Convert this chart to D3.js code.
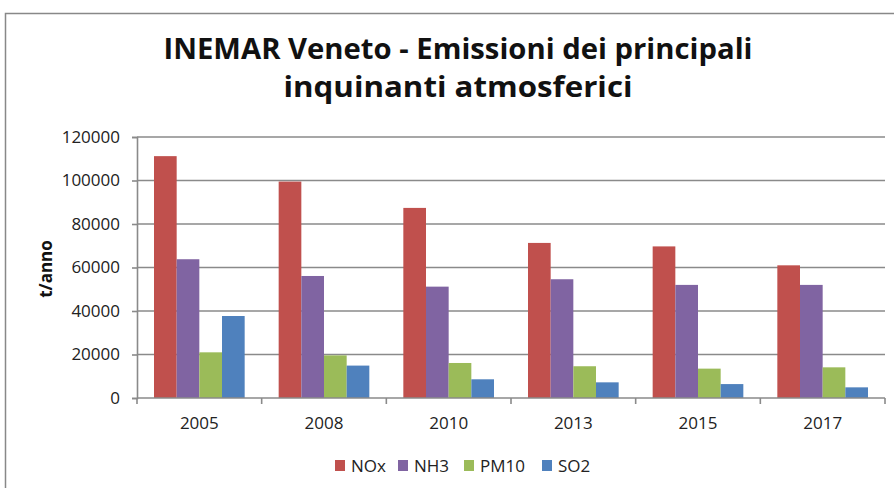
<!DOCTYPE html>
<html>
<head>
<meta charset="utf-8">
<script src="https://cdn.jsdelivr.net/npm/d3@7"></script>
<style>
  body { margin: 0; background: #fff; }
  svg { display: block; font-family: "Open Sans", "DejaVu Sans", sans-serif; }
</style>
</head>
<body>
<svg id="chart" width="894" height="488"></svg>
<script>
const years = ["2005", "2008", "2010", "2013", "2015", "2017"];
const seriesNames = ["NOx", "NH3", "PM10", "SO2"];
const nox = [111200, 99500, 87400, 71300, 69700, 61000];
const nh3 = [63800, 56100, 51200, 54600, 52000, 52000];
const pm10 = [21000, 19600, 16100, 14600, 13500, 14100];
const so2 = [37700, 14900, 8600, 7200, 6400, 4900];
const yTicks = [0, 20000, 40000, 60000, 80000, 100000, 120000];
const colors = ["#C0504D", "#8064A2", "#9BBB59", "#4F81BD"];

const values = [nox, nh3, pm10, so2];
const rows = years.map((y, i) => ({
  year: y,
  vals: seriesNames.map((s, k) => ({ key: s, value: values[k][i] }))
}));

const svg = d3.select("#chart");
const PLOT_LEFT = 137, PLOT_RIGHT = 885, PLOT_TOP = 137, PLOT_BOTTOM = 398;
const AXIS_GREY = "#8a8a8a";

// outer frame (cut off at right and bottom)
svg.append("path")
  .attr("d", "M5.5,500 L5.5,13.5 L900,13.5")
  .attr("fill", "none")
  .attr("stroke", "#888")
  .attr("stroke-width", 1.5);

const x0 = d3.scaleBand().domain(years).range([PLOT_LEFT, PLOT_RIGHT]);
const x1 = d3.scaleBand().domain(seriesNames)
  .range([0, x0.bandwidth()])
  .paddingOuter(0.75)
  .paddingInner(0);
const y = d3.scaleLinear().domain([0, 120000]).range([PLOT_BOTTOM, PLOT_TOP]);
const color = d3.scaleOrdinal().domain(seriesNames).range(colors);

// gridlines
svg.append("g")
  .selectAll("line")
  .data(yTicks.slice(1))
  .join("line")
  .attr("x1", PLOT_LEFT).attr("x2", PLOT_RIGHT)
  .attr("y1", d => y(d)).attr("y2", d => y(d))
  .attr("stroke", AXIS_GREY)
  .attr("stroke-width", 1.6);

// bars
svg.append("g")
  .selectAll("g")
  .data(rows)
  .join("g")
  .attr("transform", d => `translate(${x0(d.year)},0)`)
  .selectAll("rect")
  .data(d => d.vals)
  .join("rect")
  .attr("x", d => x1(d.key))
  .attr("width", x1.bandwidth())
  .attr("y", d => y(d.value))
  .attr("height", d => y(0) - y(d.value))
  .attr("fill", d => color(d.key));

// y axis
const yAxis = svg.append("g")
  .attr("transform", `translate(${PLOT_LEFT},0)`)
  .call(d3.axisLeft(y).tickValues(yTicks).tickSize(5).tickPadding(12).tickFormat(d3.format("d")));
yAxis.select(".domain").attr("stroke", AXIS_GREY).attr("stroke-width", 1.6);
yAxis.selectAll(".tick line").attr("stroke", AXIS_GREY).attr("stroke-width", 1.6);
yAxis.selectAll(".tick text")
  .attr("font-size", 17)
  .attr("font-family", "Open Sans, sans-serif")
  .attr("fill", "#222");

// x axis with ticks on category boundaries
const xAxisG = svg.append("g").attr("transform", `translate(0,${PLOT_BOTTOM})`);
xAxisG.append("line")
  .attr("x1", PLOT_LEFT).attr("x2", PLOT_RIGHT)
  .attr("stroke", AXIS_GREY).attr("stroke-width", 1.6);
xAxisG.selectAll(".bound")
  .data(years.map(d => x0(d)).concat([PLOT_RIGHT]))
  .join("line")
  .attr("class", "bound")
  .attr("x1", d => d).attr("x2", d => d)
  .attr("y1", 0).attr("y2", 6)
  .attr("stroke", AXIS_GREY).attr("stroke-width", 1.6);
xAxisG.selectAll("text")
  .data(years)
  .join("text")
  .attr("x", d => x0(d) + x0.bandwidth() / 2)
  .attr("y", 31)
  .attr("text-anchor", "middle")
  .attr("font-size", 17)
  .attr("fill", "#222")
  .text(d => d);

// y title
svg.append("text")
  .attr("transform", "translate(52,269) rotate(-90)")
  .attr("text-anchor", "middle")
  .attr("font-size", 17)
  .attr("font-weight", "bold")
  .attr("fill", "#111")
  .text("t/anno");

// title
const title = svg.append("text")
  .attr("text-anchor", "middle")
  .attr("font-family", "'Open Sans', sans-serif")
  .attr("font-weight", "bold")
  .attr("font-size", 29)
  .attr("lengthAdjust", "spacingAndGlyphs")
  .attr("fill", "#111");
title.append("tspan").attr("x", 458).attr("y", 59)
  .attr("textLength", 589).attr("lengthAdjust", "spacingAndGlyphs")
  .text("INEMAR Veneto - Emissioni dei principali");
title.append("tspan").attr("x", 458).attr("y", 97)
  .attr("textLength", 349).attr("lengthAdjust", "spacingAndGlyphs")
  .text("inquinanti atmosferici");

// legend
const legendX = [335, 398, 464, 542];
const legend = svg.append("g")
  .selectAll("g")
  .data(seriesNames)
  .join("g")
  .attr("transform", (d, i) => `translate(${legendX[i]},472)`);
legend.append("rect")
  .attr("x", 0).attr("y", -12)
  .attr("width", 10).attr("height", 11)
  .attr("fill", d => color(d));
legend.append("text")
  .attr("x", 16).attr("y", 0)
  .attr("font-size", 17)
  .attr("fill", "#222")
  .text(d => d);
</script>
</body>
</html>
